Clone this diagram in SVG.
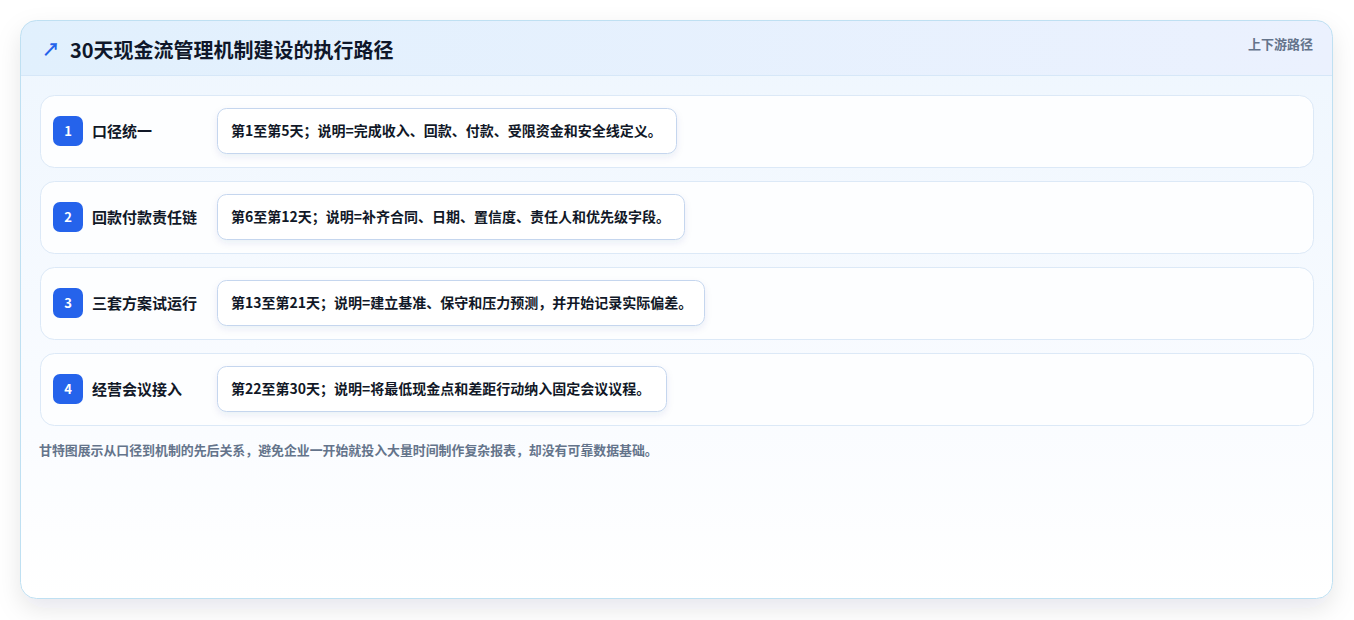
<svg xmlns="http://www.w3.org/2000/svg" width="1354" height="620" viewBox="0 0 1354 620">
<defs>
<linearGradient id="cardBg" x1="0" y1="0" x2="0" y2="1">
<stop offset="0" stop-color="#eef6fe"/>
<stop offset="0.6" stop-color="#f8fbff"/>
<stop offset="1" stop-color="#ffffff"/>
</linearGradient>
<linearGradient id="headBg" x1="0" y1="0" x2="1" y2="0">
<stop offset="0" stop-color="#e1f0fd"/>
<stop offset="1" stop-color="#ebf1fe"/>
</linearGradient>
<clipPath id="cardClip"><rect x="20.5" y="20.5" width="1312" height="578" rx="16"/></clipPath>
<filter id="cardShadow" x="-5%" y="-8%" width="110%" height="120%">
<feDropShadow dx="0" dy="10" stdDeviation="12" flood-color="#0f172a" flood-opacity="0.1"/>
</filter>
<filter id="pillShadow" x="-5%" y="-20%" width="110%" height="150%">
<feDropShadow dx="0" dy="3" stdDeviation="3.5" flood-color="#1e3a8a" flood-opacity="0.08"/>
</filter>
</defs>
<style>
text{font-family:"Noto Sans CJK SC","Noto Sans",sans-serif}
.row{fill:#fdfeff;stroke:#dce9f7;stroke-width:1}
.badge{fill:#2563eb}
.num{fill:#ffffff;font-size:13px;font-weight:700;text-anchor:middle}
.label{fill:#111827;font-size:15px;font-weight:600}
.pill{fill:#ffffff;stroke:#c5d6ee;stroke-width:1}
.ptext{fill:#111827;font-size:14px;font-weight:700}
</style>
<rect x="20.5" y="20.5" width="1312" height="578" rx="16" fill="url(#cardBg)" filter="url(#cardShadow)"/>
<g clip-path="url(#cardClip)">
<rect x="20" y="20" width="1314" height="55" fill="url(#headBg)"/>
<line x1="20" y1="75.5" x2="1334" y2="75.5" stroke="#d6e7f8" stroke-width="1"/>
</g>
<rect x="20.5" y="20.5" width="1312" height="578" rx="16" fill="none" stroke="#bfe0f2" stroke-width="1"/>
<g id="header">
<text x="42" y="56" font-size="18" font-weight="700" fill="#2563eb" font-family="DejaVu Sans,sans-serif">↗</text>
<text x="70" y="57.5" font-size="20" font-weight="700" fill="#0f172a">30天现金流管理机制建设的执行路径</text>
<text x="1313" y="48.5" font-size="13" font-weight="600" fill="#64748b" text-anchor="end">上下游路径</text>
</g>
<g id="connectors"></g>
<g id="node1">
<rect class="row" x="40.5" y="95.5" width="1273" height="72" rx="14"/>
<rect class="badge" x="53" y="116" width="30" height="30" rx="7"/>
<text class="num" x="68" y="135.5">1</text>
<text class="label" x="92" y="136.5">口径统一</text>
<rect class="pill" x="217.5" y="108.5" width="459" height="45" rx="9" filter="url(#pillShadow)"/>
<text class="ptext" x="231" y="136">第1至第5天；说明=完成收入、回款、付款、受限资金和安全线定义。</text>
</g>
<g id="node2">
<rect class="row" x="40.5" y="181.5" width="1273" height="72" rx="14"/>
<rect class="badge" x="53" y="202" width="30" height="30" rx="7"/>
<text class="num" x="68" y="221.5">2</text>
<text class="label" x="92" y="222.5">回款付款责任链</text>
<rect class="pill" x="217.5" y="194.5" width="467" height="45" rx="9" filter="url(#pillShadow)"/>
<text class="ptext" x="231" y="222">第6至第12天；说明=补齐合同、日期、置信度、责任人和优先级字段。</text>
</g>
<g id="node3">
<rect class="row" x="40.5" y="267.5" width="1273" height="72" rx="14"/>
<rect class="badge" x="53" y="288" width="30" height="30" rx="7"/>
<text class="num" x="68" y="307.5">3</text>
<text class="label" x="92" y="308.5">三套方案试运行</text>
<rect class="pill" x="217.5" y="280.5" width="487" height="45" rx="9" filter="url(#pillShadow)"/>
<text class="ptext" x="231" y="308">第13至第21天；说明=建立基准、保守和压力预测，并开始记录实际偏差。</text>
</g>
<g id="node4">
<rect class="row" x="40.5" y="353.5" width="1273" height="72" rx="14"/>
<rect class="badge" x="53" y="374" width="30" height="30" rx="7"/>
<text class="num" x="68" y="393.5">4</text>
<text class="label" x="92" y="394.5">经营会议接入</text>
<rect class="pill" x="217.5" y="366.5" width="449" height="45" rx="9" filter="url(#pillShadow)"/>
<text class="ptext" x="231" y="394">第22至第30天；说明=将最低现金点和差距行动纳入固定会议议程。</text>
</g>
<text x="39" y="455" font-size="12.9" font-weight="600" fill="#64748b">甘特图展示从口径到机制的先后关系，避免企业一开始就投入大量时间制作复杂报表，却没有可靠数据基础。</text>
</svg>
